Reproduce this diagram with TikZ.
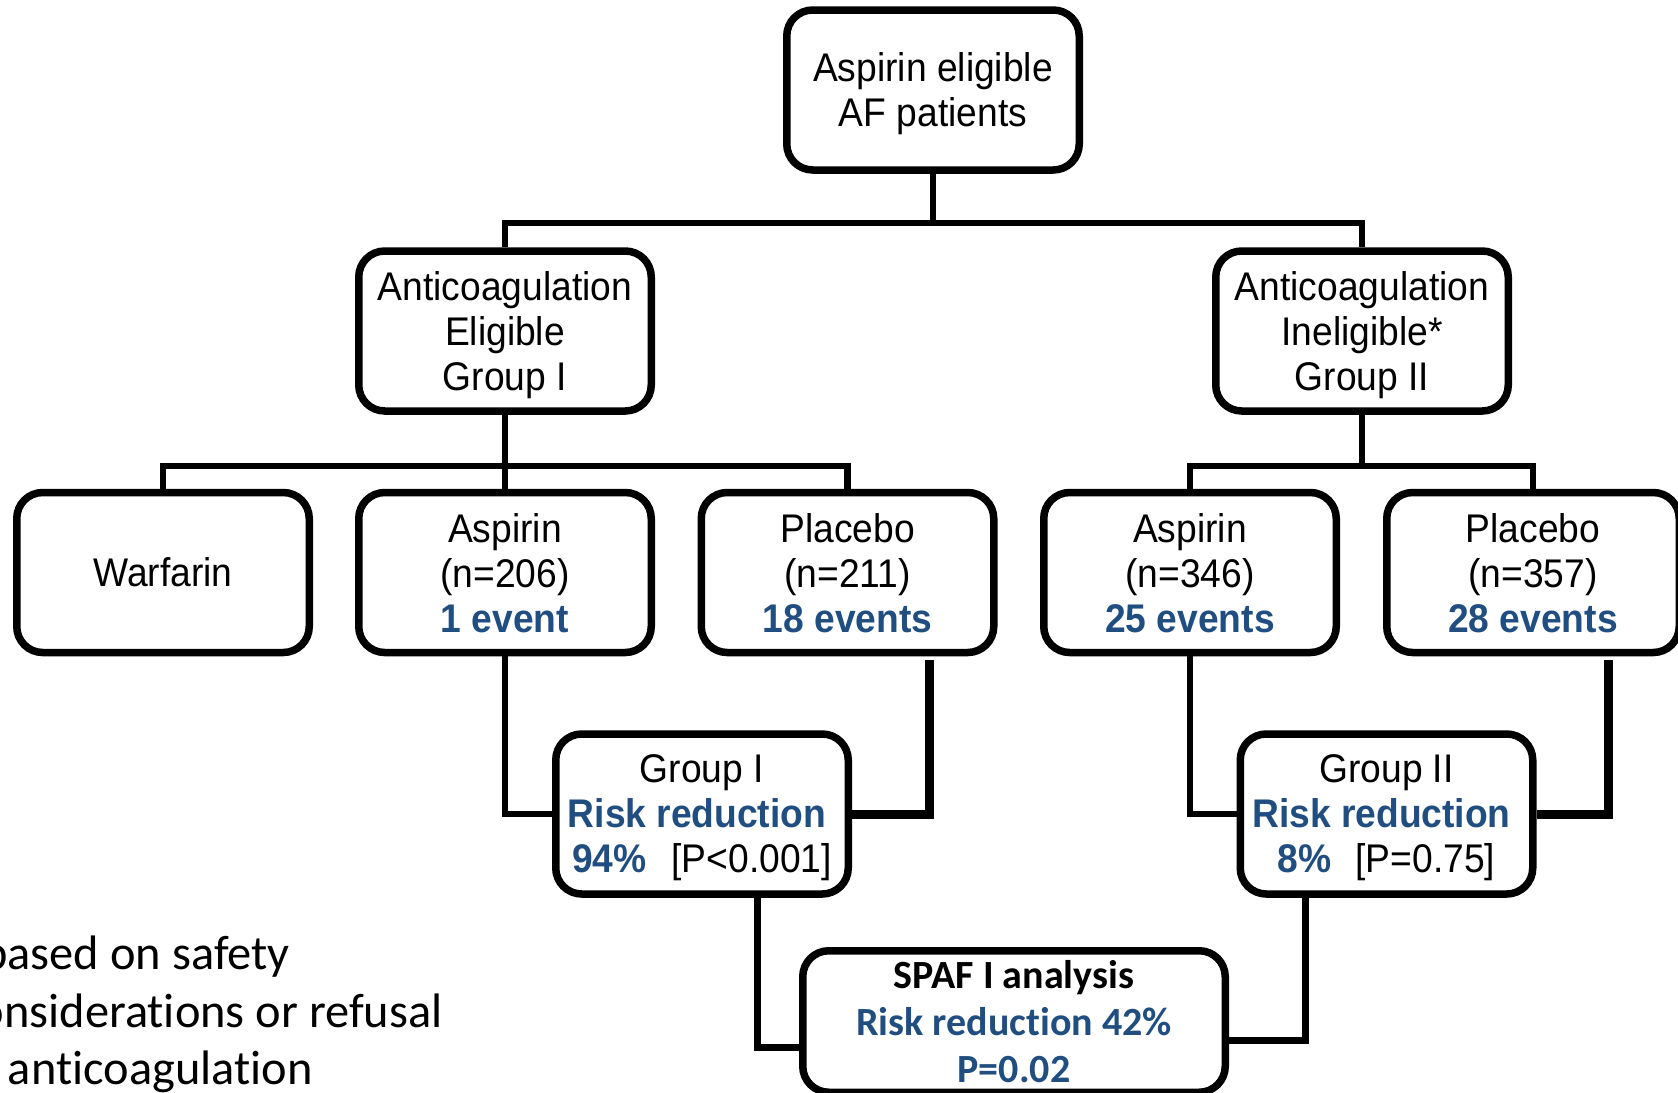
\documentclass[tikz,border=0pt]{standalone}
\usepackage{fontspec}
\setmainfont{Liberation Sans}[FakeStretch=0.93]
\newfontfamily\calfont{Carlito}[Ligatures=NoCommon]
\definecolor{rblue}{RGB}{33,78,128}
\begin{document}
\begin{tikzpicture}[x=0.5pt,y=-0.5pt,
  box/.style={draw, line width=3.75pt, rounded corners=13pt, fill=white,
    minimum width=146.25pt, minimum height=80pt, align=center, inner sep=0pt,
    text depth=0pt, font=\fontsize{20}{22.5}\selectfont},
  spafbox/.style={draw, line width=3.75pt, rounded corners=13pt, fill=white,
    minimum width=211.25pt, minimum height=70.75pt, align=center, inner sep=0pt,
    font=\calfont\bfseries\fontsize{20}{23.5}\selectfont},
  fn/.style={inner sep=0pt, font=\calfont\fontsize{24.2}{28}\selectfont},
  tree/.style={line width=3.2pt},
  thickline/.style={line width=4.5pt},
  lowline/.style={line width=3.5pt}]
\useasboundingbox (0,0) rectangle (1678,1093);

% connector junctions
\coordinate (b1) at (933,223);
\coordinate (b2) at (505,466);
\coordinate (b3) at (1362,466);

% boxes
\node[box] (top) at (933,90) {Aspirin eligible\\AF patients};
\node[box] (g1) at (505,331) {Anticoagulation\\Eligible\\Group I};
\node[box] (g2) at (1362,331) {Anticoagulation\\Ineligible*\\Group II};
\node[box] (w) at (163,572.5) {Warfarin};
\node[box] (a1) at (505,572.5) {Aspirin\\(n=206)\\{\color{rblue}\bfseries 1 event}};
\node[box] (p1) at (847.5,572.5) {Placebo\\(n=211)\\{\color{rblue}\bfseries 18 events}};
\node[box] (a2) at (1190,572.5) {Aspirin\\(n=346)\\{\color{rblue}\bfseries 25 events}};
\node[box] (p2) at (1533,572.5) {Placebo\\(n=357)\\{\color{rblue}\bfseries 28 events}};
\node[box] (r1) at (702,814) {Group I\\{\color{rblue}\bfseries Risk reduction}\hspace{5pt}\mbox{}\\{\color{rblue}\bfseries 94\%}\hspace{12.5pt}[P<0.001]};
\node[box] (r2) at (1386.5,814) {Group II\\{\color{rblue}\bfseries Risk reduction}\hspace{5pt}\mbox{}\\{\color{rblue}\bfseries 8\%}\hspace{12pt}[P=0.75]};
\node[spafbox] (spaf) at (1014,1021.5) {SPAF I analysis\\{\color{rblue}Risk reduction 42\%}\\{\color{rblue}P=0.02}};

% footnote
\node[fn, anchor=base east] (fn1) at (290,969.5) {based on safety};
\node[fn, anchor=base east] (fn2) at (443,1027.5) {considerations or refusal};
\node[fn, anchor=base east] (fn3) at (313,1084.5) {of anticoagulation};

% connectors
\draw[tree] (top.south) -- (b1);
\draw[tree] (g1.north) |- (b1) -| (g2.north);
\draw[tree] (g1.south) -- (a1.north);
\draw[tree] (w.north) |- (b2) -| (p1.north);
\draw[tree] (g2.south) -- (b3);
\draw[tree] (a2.north) |- (b3) -| (p2.north);

\draw[tree] (a1.south) |- (r1.west);
\draw[thickline] ([xshift=40.75pt,yshift=-2pt]p1.south) |- (r1.east);
\draw[tree] (a2.south) |- (r2.west);
\draw[thickline] ([xshift=37.5pt,yshift=-2pt]p2.south) |- (r2.east);

\draw[lowline] ([xshift=27.5pt]r1.south) |- ([yshift=-12.75pt]spaf.west);
\draw[lowline] ([xshift=-40.75pt]r2.south) |- ([yshift=-9.25pt]spaf.east);
\end{tikzpicture}
\end{document}
